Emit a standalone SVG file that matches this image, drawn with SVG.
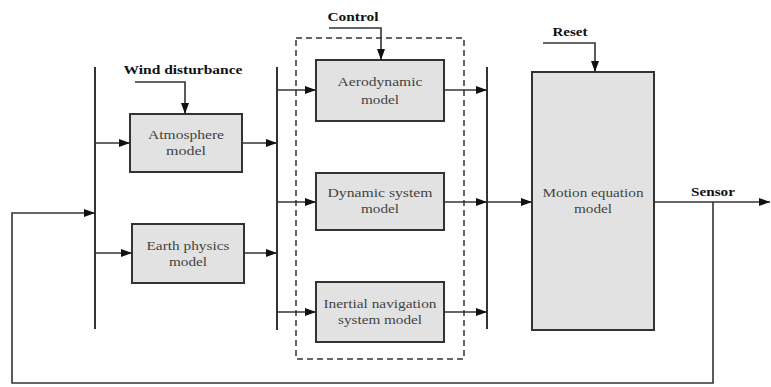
<svg xmlns="http://www.w3.org/2000/svg" width="771" height="387" viewBox="0 0 771 387">
<style>
.box{fill:#e2e2e2;stroke:#333;stroke-width:2}
.bus{stroke:#333;stroke-width:2;fill:none}
.ln{stroke:#333;stroke-width:1.6;fill:none}
.arr{marker-end:url(#ah)}
.dash{fill:none;stroke:#333;stroke-width:1.5;stroke-dasharray:6,4}
.t{font-family:'Liberation Serif','DejaVu Serif','Times New Roman',serif;font-size:13.5px;fill:#444;text-anchor:middle}
.lb{font-family:'Liberation Serif','DejaVu Serif','Times New Roman',serif;font-size:13.5px;font-weight:bold;fill:#111;text-anchor:middle}
</style>
<defs>
<marker id="ah" markerUnits="userSpaceOnUse" markerWidth="11" markerHeight="8" refX="11" refY="4" orient="auto">
<path d="M0,0 L11,4 L0,8 z" fill="#111"/>
</marker>
</defs>
<rect width="771" height="387" fill="#fff"/>

<g id="buses">
<line class="bus" x1="95" y1="67" x2="95" y2="329"/>
<line class="bus" x1="277" y1="67" x2="277" y2="330"/>
<line class="bus" x1="487" y1="67" x2="487" y2="329"/>
</g>

<g id="dashed-group">
<rect class="dash" x="296" y="38" width="168" height="321"/>
</g>

<g id="wind-disturbance">
<text class="lb" x="183" y="74" textLength="119" lengthAdjust="spacingAndGlyphs">Wind disturbance</text>
</g>
<g id="control">
<text class="lb" x="353" y="21" textLength="51" lengthAdjust="spacingAndGlyphs">Control</text>
</g>
<g id="reset">
<text class="lb" x="570" y="36" textLength="35" lengthAdjust="spacingAndGlyphs">Reset</text>
</g>
<g id="sensor">
<text class="lb" x="713" y="196" textLength="44" lengthAdjust="spacingAndGlyphs">Sensor</text>
</g>

<g id="atmosphere">
<rect class="box" x="130" y="114" width="112" height="58"/>
<text class="t" x="186" y="139" textLength="76" lengthAdjust="spacingAndGlyphs">Atmosphere</text>
<text class="t" x="186" y="155" textLength="40" lengthAdjust="spacingAndGlyphs">model</text>
</g>
<g id="earth">
<rect class="box" x="132" y="224" width="112" height="59"/>
<text class="t" x="188" y="250" textLength="83" lengthAdjust="spacingAndGlyphs">Earth physics</text>
<text class="t" x="188" y="266" textLength="38" lengthAdjust="spacingAndGlyphs">model</text>
</g>
<g id="aerodynamic">
<rect class="box" x="316" y="60" width="128" height="61"/>
<text class="t" x="380" y="86" textLength="85" lengthAdjust="spacingAndGlyphs">Aerodynamic</text>
<text class="t" x="380" y="104" textLength="38" lengthAdjust="spacingAndGlyphs">model</text>
</g>
<g id="dynamic">
<rect class="box" x="316" y="173" width="128" height="57"/>
<text class="t" x="380" y="197" textLength="105" lengthAdjust="spacingAndGlyphs">Dynamic system</text>
<text class="t" x="380" y="213" textLength="38" lengthAdjust="spacingAndGlyphs">model</text>
</g>
<g id="inertial">
<rect class="box" x="316" y="282" width="128" height="60"/>
<text class="t" x="380" y="308" textLength="113" lengthAdjust="spacingAndGlyphs">Inertial navigation</text>
<text class="t" x="380" y="324" textLength="84" lengthAdjust="spacingAndGlyphs">system model</text>
</g>
<g id="motion">
<rect class="box" x="532" y="72" width="122" height="258"/>
<text class="t" x="593" y="197" textLength="101" lengthAdjust="spacingAndGlyphs">Motion equation</text>
<text class="t" x="593" y="213" textLength="38" lengthAdjust="spacingAndGlyphs">model</text>
</g>

<g id="connectors">
<polyline class="ln arr" points="135,82 185,82 185,114"/>
<polyline class="ln arr" points="329,28 381,28 381,60"/>
<polyline class="ln arr" points="543,43 595,43 595,72"/>
<line class="ln arr" x1="95" y1="143" x2="130" y2="143"/>
<line class="ln arr" x1="95" y1="253" x2="132" y2="253"/>
<line class="ln arr" x1="242" y1="143" x2="277" y2="143"/>
<line class="ln arr" x1="244" y1="253" x2="277" y2="253"/>
<line class="ln arr" x1="277" y1="90" x2="316" y2="90"/>
<line class="ln arr" x1="277" y1="202" x2="316" y2="202"/>
<line class="ln arr" x1="277" y1="312" x2="316" y2="312"/>
<line class="ln arr" x1="444" y1="90" x2="487" y2="90"/>
<line class="ln arr" x1="444" y1="202" x2="487" y2="202"/>
<line class="ln arr" x1="444" y1="312" x2="487" y2="312"/>
<line class="ln arr" x1="487" y1="202" x2="532" y2="202"/>
<line class="ln arr" x1="654" y1="202" x2="770" y2="202"/>
<polyline class="ln arr" points="713,202 713,383 12,383 12,213 95,213"/>
</g>
</svg>
